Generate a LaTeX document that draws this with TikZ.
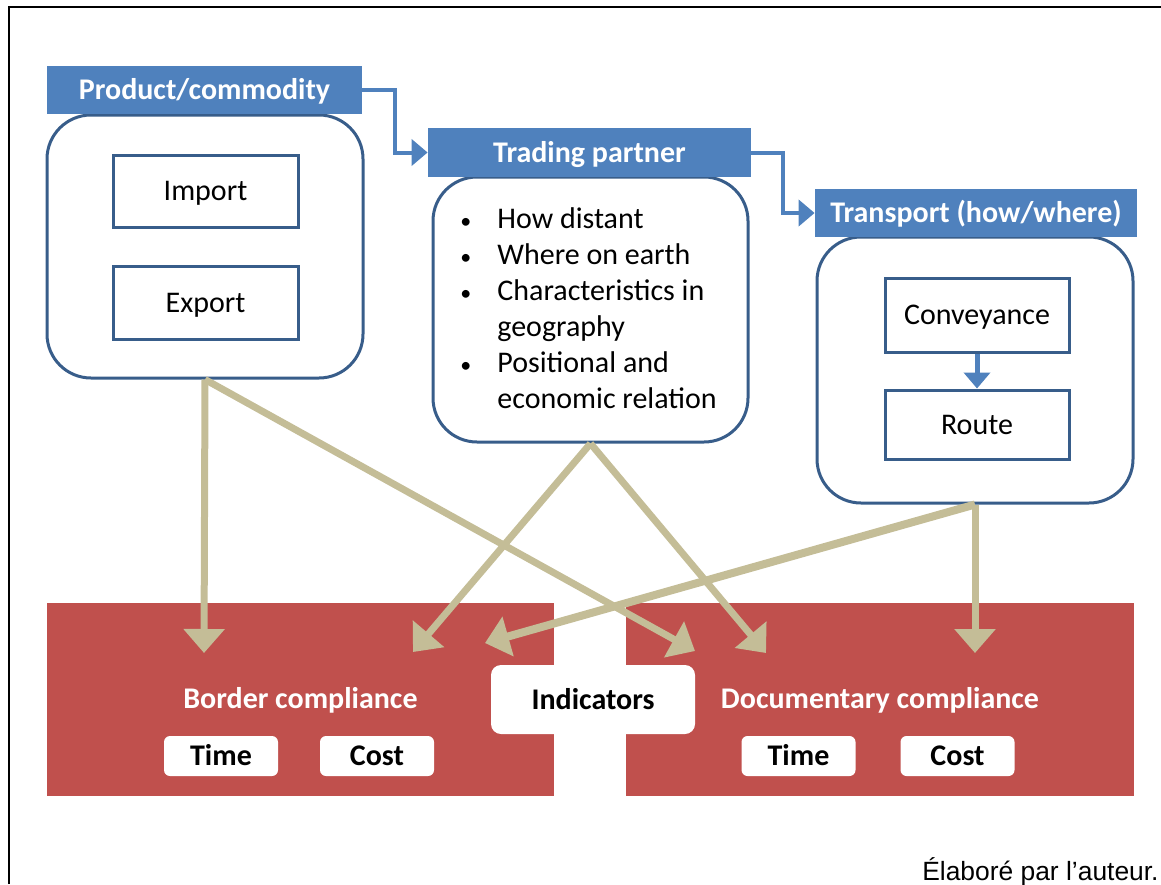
\documentclass[tikz,border=0pt]{standalone}
\usepackage{fontspec}
\setmainfont{Carlito}
\newfontfamily\notefont{Liberation Sans}
\usetikzlibrary{arrows.meta,positioning}

\definecolor{hdrblue}{HTML}{4F81BD}
\definecolor{lineblue}{HTML}{385D8A}
\definecolor{blockred}{HTML}{C0504D}
\definecolor{arrowtan}{HTML}{C4BD97}

\newcommand\blt{\hspace*{2.5pt}{\fontsize{11}{12}\selectfont\textbullet}}

\tikzset{
  txt/.style={font=\fontsize{15}{18}\selectfont, text height=11.7pt, text depth=2pt, inner sep=0pt},
  hdr/.style={txt, fill=hdrblue, text=white, font=\fontsize{15}{18}\selectfont\bfseries},
  grpbox/.style={draw=lineblue, line width=1.5pt, rounded corners=22pt, fill=white, inner sep=0pt},
  itembox/.style={txt, draw=lineblue, line width=1.5pt, fill=white, minimum width=92.5pt},
  redblock/.style={fill=blockred, inner sep=0pt, minimum height=96.5pt},
  tagbox/.style={txt, fill=white, rounded corners=3pt, font=\fontsize{15}{18}\selectfont\bfseries},
  tanarrow/.style={draw=arrowtan, line width=3.5pt, -{Triangle[width=20pt,length=12pt]}},
  bluearrow/.style={draw=hdrblue, line width=2pt, -{Triangle[width=13pt,length=8pt]}}
}

\begin{document}
\begin{tikzpicture}[x=0.5pt,y=-0.5pt]
\useasboundingbox (0,0) rectangle (1161,884);
\draw[line width=1.3pt] (9,884) -- (9,7) -- (1161,7);

\node[redblock, minimum width=253.5pt] (bordblk) at (300.5,699.5) {};
\node[redblock, minimum width=254pt] (docblk) at (880,699.5) {};
\node[txt, anchor=base, text=white, font=\fontsize{15}{18}\selectfont\bfseries] (bordlbl) at (300.5,708) {Border compliance};
\node[txt, anchor=base, text=white, font=\fontsize{15}{18}\selectfont\bfseries] (doclbl) at (880,708) {Documentary compliance};
\node[tagbox, minimum width=57pt, minimum height=20pt] (bordtime) at (221,756) {Time};
\node[tagbox, minimum width=57pt, minimum height=20pt] (bordcost) at (377,756) {Cost};
\node[tagbox, minimum width=57pt, minimum height=20pt] (doctime) at (798.5,756) {Time};
\node[tagbox, minimum width=57pt, minimum height=20pt] (doccost) at (957.5,756) {Cost};
\node[tagbox, rounded corners=5pt, minimum width=102pt, minimum height=34.5pt] (indic) at (593,699.5) {Indicators};

\node[grpbox, minimum width=158pt, minimum height=131.5pt] (prodbox) at (205,246.5) {};
\node[hdr, minimum width=157.5pt, minimum height=24pt] (prodhead) at (204.5,90) {Product/commodity};
\node[itembox, minimum height=36pt] (import) at (205.5,191) {Import};
\node[itembox, minimum height=36.5pt] (export) at (205.5,302.5) {Export};

\node[grpbox, minimum width=157.5pt, minimum height=132.5pt] (tradebox) at (590.5,309.5) {};
\node[hdr, minimum width=161.5pt, minimum height=24.5pt] (tradehead) at (589.5,152.5) {Trading partner};
\node[anchor=base west, inner sep=0pt, font=\fontsize{15}{18}\selectfont] (tradelist) at (455,228) {%
  \begin{tabular}[t]{@{}p{21pt}@{}l@{}}
  \blt & How distant\\
  \blt & Where on earth\\
  \blt & Characteristics in\\
       & geography\\
  \blt & Positional and\\
       & economic relation
  \end{tabular}};

\node[grpbox, minimum width=158pt, minimum height=133pt] (transbox) at (975,370) {};
\node[hdr, minimum width=161pt, minimum height=24pt] (transhead) at (976,213) {Transport (how/where)};
\node[itembox, minimum width=92pt, minimum height=37pt] (convey) at (977,315) {Conveyance};
\node[itembox, minimum width=92pt, minimum height=34.5pt] (route) at (977,424.5) {Route};

\draw[bluearrow] (prodhead.east) -- ++(33,0) |- (tradehead.west);
\draw[bluearrow] (tradehead.east) -- ++(32,0) |- (transhead.west);
\draw[bluearrow, line width=2.5pt] (convey) -- (route);

\coordinate (tipA) at (204,653);
\coordinate (tipB) at (695,651);
\coordinate (tipC) at (413,652);
\coordinate (tipD) at (766,653);
\coordinate (tipE) at (975,653);
\coordinate (tipF) at (485,643);
\draw[tanarrow] (prodbox.south) -- (tipA);
\draw[tanarrow] (prodbox.south) -- (tipB);
\draw[tanarrow] (tradebox.south) -- (tipC);
\draw[tanarrow] (tradebox.south) -- (tipD);
\draw[tanarrow] (transbox.south) -- (tipE);
\draw[tanarrow, line width=4pt] (transbox.south) -- (tipF);

\node[anchor=base east, inner sep=0pt, font=\notefont\fontsize{13.2}{16}\selectfont] (note) at (1159,880) {Élaboré par l’auteur.};
\end{tikzpicture}
\end{document}
